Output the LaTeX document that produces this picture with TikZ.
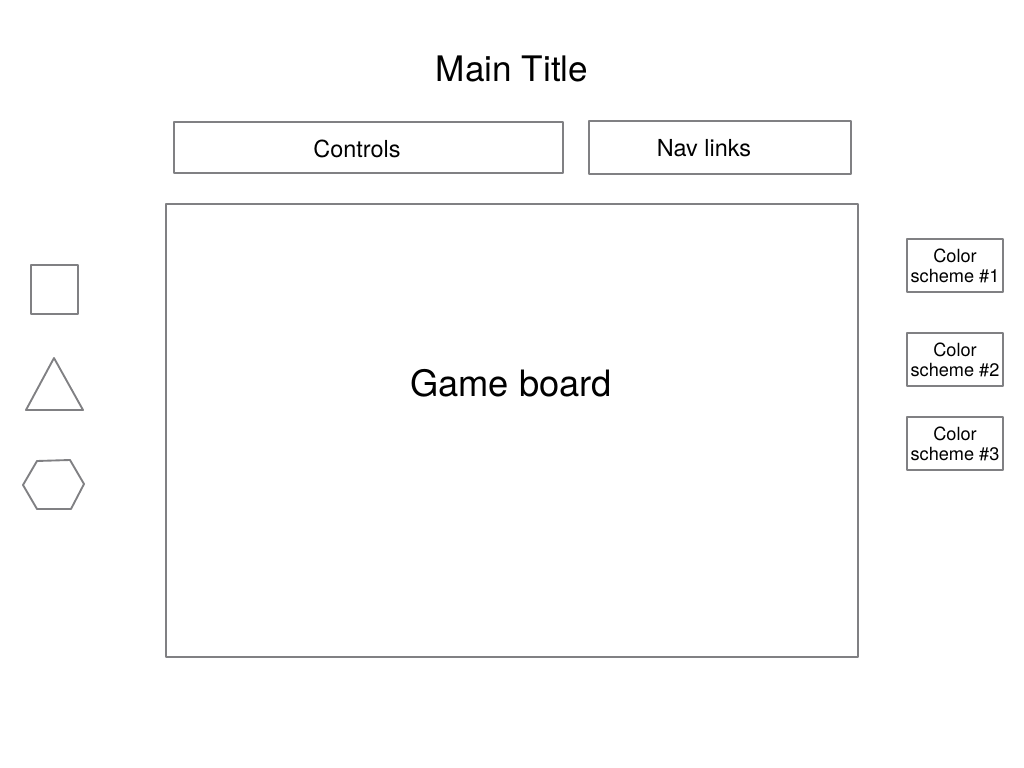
\documentclass[tikz,border=0pt]{standalone}
\usepackage{fontspec}
\setmainfont{TeX Gyre Heros}
\usetikzlibrary{positioning}
\definecolor{wiregray}{RGB}{128,128,131}

\begin{document}
\begin{tikzpicture}[
		% one unit = one pixel of the mock-up, y running down
		x={(0.03cm,0cm)},
		y={(0cm,-0.03cm)},
		line join=round,
		frame/.style={draw=wiregray, line width=1.6pt},
		tagtext/.style={anchor=base, inner sep=0pt, font=\fontsize{20}{24}\selectfont},
		bigtext/.style={tagtext, font=\fontsize{31}{37}\selectfont},
		smalltext/.style={tagtext, align=center, font=\fontsize{15.5}{17.5}\selectfont}
	]

	\useasboundingbox (0,0) rectangle (1024,768);

	%-------------------
	% Title
	%-------------------
	\node[tagtext, font=\fontsize{30}{36}\selectfont] (title) at (512,82) {Main Title};

	%-------------------
	% Top bar
	%-------------------
	\draw[frame] (174,122) rectangle (563,173);
	\node[tagtext] (controls) at (357,158) {Controls};

	\draw[frame] (589,121) rectangle (851,174);
	\node[tagtext] (navlinks) at (704,157) {Nav links};

	%-------------------
	% Game board
	%-------------------
	\draw[frame] (166,204) rectangle (858,657);
	\node[bigtext] (board) at (511,397) {Game board};

	%-------------------
	% Shapes on the left
	%-------------------
	\draw[frame] (31,265) rectangle (78,314);
	\draw[frame] (54,358) -- (83,410) -- (26,410) -- cycle;
	\draw[frame] (23,485) -- (37,461) -- (70,460) -- (84,484)
	-- (71,509) -- (37,509) -- cycle;

	%-------------------
	% Colour schemes on the right
	%-------------------
	\foreach \y/\n in {239/1,333/2,417/3} {
			\draw[frame] (907,\y) rectangle (1003,\y+53);
			\node[smalltext] (scheme\n) at (955,\y+44) {Color\\scheme \#\n};
		}

\end{tikzpicture}
\end{document}
